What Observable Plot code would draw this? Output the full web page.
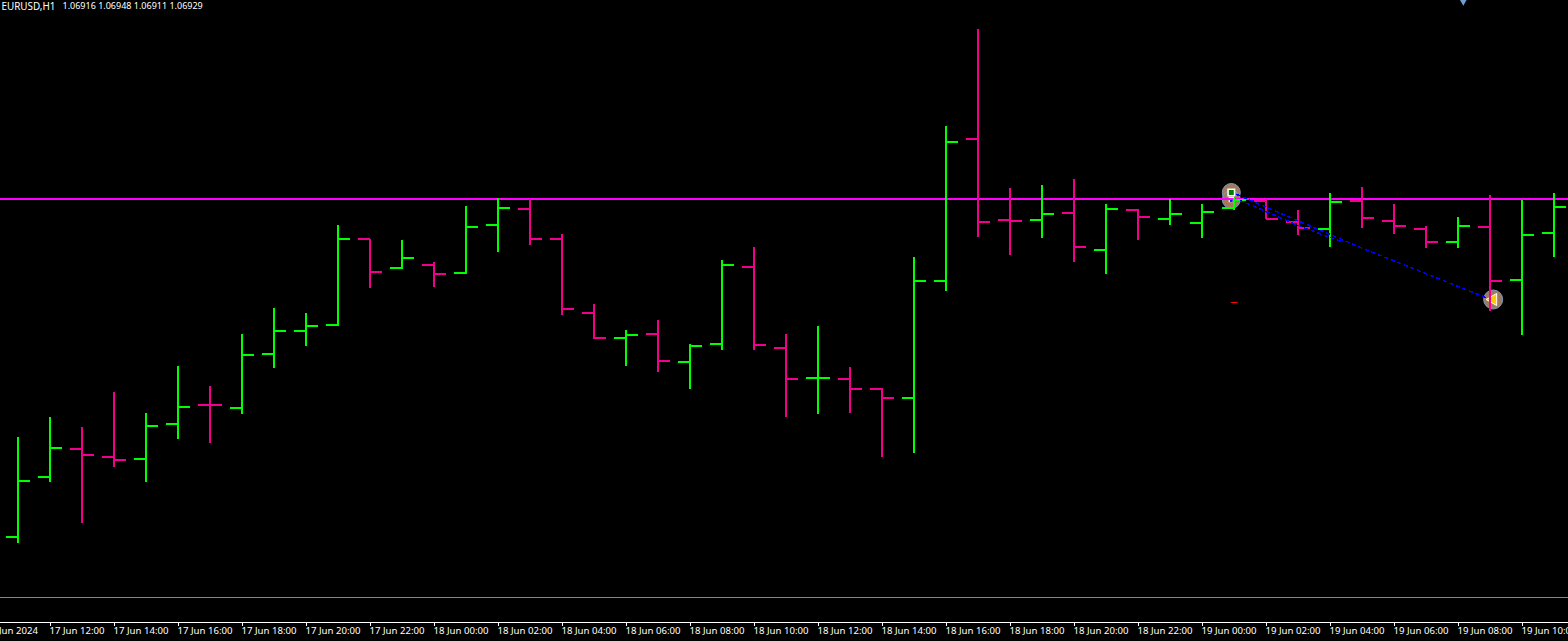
<!DOCTYPE html>
<html>
<head>
<meta charset="utf-8">
<style>html,body{margin:0;padding:0;background:#000;overflow:hidden}svg{display:block}</style>
<script src="https://cdn.jsdelivr.net/npm/d3@7"></script>
<script src="https://cdn.jsdelivr.net/npm/@observablehq/plot@0.6"></script>
</head>
<body>
<script>
const symbolLabel = "EURUSD,H1";
const quote = ["1.06916","1.06948","1.06911","1.06929"];

const times = ["2024-06-17T11:00Z","2024-06-17T12:00Z","2024-06-17T13:00Z","2024-06-17T14:00Z","2024-06-17T15:00Z","2024-06-17T16:00Z","2024-06-17T17:00Z","2024-06-17T18:00Z","2024-06-17T19:00Z","2024-06-17T20:00Z","2024-06-17T21:00Z","2024-06-17T22:00Z","2024-06-17T23:00Z","2024-06-18T00:00Z","2024-06-18T01:00Z","2024-06-18T02:00Z","2024-06-18T03:00Z","2024-06-18T04:00Z","2024-06-18T05:00Z","2024-06-18T06:00Z","2024-06-18T07:00Z","2024-06-18T08:00Z","2024-06-18T09:00Z","2024-06-18T10:00Z","2024-06-18T11:00Z","2024-06-18T12:00Z","2024-06-18T13:00Z","2024-06-18T14:00Z","2024-06-18T15:00Z","2024-06-18T16:00Z","2024-06-18T17:00Z","2024-06-18T18:00Z","2024-06-18T19:00Z","2024-06-18T20:00Z","2024-06-18T21:00Z","2024-06-18T22:00Z","2024-06-18T23:00Z","2024-06-19T00:00Z","2024-06-19T01:00Z","2024-06-19T02:00Z","2024-06-19T03:00Z","2024-06-19T04:00Z","2024-06-19T05:00Z","2024-06-19T06:00Z","2024-06-19T07:00Z","2024-06-19T08:00Z","2024-06-19T09:00Z","2024-06-19T10:00Z","2024-06-19T11:00Z"];
const opens  = [1.07104,1.07164,1.07192,1.07184,1.07182,1.07217,1.07236,1.07233,1.07287,1.07310,1.07316,1.07402,1.07373,1.07376,1.07368,1.07416,1.07432,1.07402,1.07328,1.07303,1.07307,1.07279,1.07297,1.07374,1.07293,1.07263,1.07262,1.07252,1.07243,1.07360,1.07502,1.07421,1.07421,1.07428,1.07391,1.07431,1.07422,1.07418,1.07433,1.07440,1.07419,1.07412,1.07440,1.07420,1.07412,1.07399,1.07414,1.07361,1.07408];
const highs  = [1.07204,1.07224,1.07214,1.07249,1.07228,1.07275,1.07255,1.07307,1.07333,1.07328,1.07416,1.07402,1.07401,1.07379,1.07435,1.07443,1.07442,1.07407,1.07337,1.07311,1.07321,1.07297,1.07381,1.07394,1.07307,1.07315,1.07274,1.07253,1.07384,1.07515,1.07612,1.07453,1.07456,1.07462,1.07437,1.07432,1.07442,1.07437,1.07443,1.07442,1.07431,1.07448,1.07454,1.07437,1.07415,1.07424,1.07446,1.07441,1.07448];
const lows   = [1.07098,1.07159,1.07118,1.07174,1.07159,1.07202,1.07198,1.07227,1.07273,1.07295,1.07315,1.07353,1.07372,1.07354,1.07367,1.07389,1.07396,1.07326,1.07302,1.07275,1.07269,1.07252,1.07291,1.07291,1.07224,1.07227,1.07228,1.07184,1.07188,1.07350,1.07404,1.07386,1.07403,1.07379,1.07367,1.07401,1.07416,1.07403,1.07431,1.07422,1.07406,1.07394,1.07413,1.07407,1.07393,1.07393,1.07330,1.07306,1.07384];
const closes = [1.07160,1.07193,1.07186,1.07181,1.07215,1.07234,1.07236,1.07286,1.07310,1.07315,1.07402,1.07369,1.07383,1.07367,1.07414,1.07433,1.07402,1.07332,1.07303,1.07306,1.07280,1.07295,1.07376,1.07296,1.07262,1.07263,1.07252,1.07243,1.07360,1.07499,1.07419,1.07420,1.07427,1.07394,1.07432,1.07424,1.07427,1.07429,1.07441,1.07422,1.07413,1.07439,1.07423,1.07415,1.07399,1.07415,1.07360,1.07406,1.07434];

const tickTimes = ["2024-06-17T10:00Z","2024-06-17T12:00Z","2024-06-17T14:00Z","2024-06-17T16:00Z","2024-06-17T18:00Z","2024-06-17T20:00Z","2024-06-17T22:00Z","2024-06-18T00:00Z","2024-06-18T02:00Z","2024-06-18T04:00Z","2024-06-18T06:00Z","2024-06-18T08:00Z","2024-06-18T10:00Z","2024-06-18T12:00Z","2024-06-18T14:00Z","2024-06-18T16:00Z","2024-06-18T18:00Z","2024-06-18T20:00Z","2024-06-18T22:00Z","2024-06-19T00:00Z","2024-06-19T02:00Z","2024-06-19T04:00Z","2024-06-19T06:00Z","2024-06-19T08:00Z","2024-06-19T10:00Z"];
const tickLabels = ["17 Jun 2024","17 Jun 12:00","17 Jun 14:00","17 Jun 16:00","17 Jun 18:00","17 Jun 20:00","17 Jun 22:00","18 Jun 00:00","18 Jun 02:00","18 Jun 04:00","18 Jun 06:00","18 Jun 08:00","18 Jun 10:00","18 Jun 12:00","18 Jun 14:00","18 Jun 16:00","18 Jun 18:00","18 Jun 20:00","18 Jun 22:00","19 Jun 00:00","19 Jun 02:00","19 Jun 04:00","19 Jun 06:00","19 Jun 08:00","19 Jun 10:00"];

const levelPrice = 1.07442;
const separatorPrice = 1.07044;
const floorPrice = 1.07019;
const tickEndPrice = 1.07015;
const ceilingPrice = 1.07641;
const viewStart = "2024-06-17T10:26:15Z";
const viewEnd = "2024-06-19T11:26:15Z";

// order arrows and the trade link
const entryTime = "2024-06-19T00:54:00Z", entryPrice = 1.07445;
const exitTime = "2024-06-19T09:05:00Z", exitPrice = 1.07342;
const linkUpperTimes = ["2024-06-19T01:04:00Z","2024-06-19T04:56:00Z","2024-06-19T08:56:00Z"];
const linkUpperPrices = [1.07447,1.07394,1.07343];
const linkLowerTimes = ["2024-06-19T01:11:00Z","2024-06-19T03:04:00Z","2024-06-19T04:25:00Z"];
const linkLowerPrices = [1.07441,1.07415,1.07399];
const redMarkTimes = ["2024-06-19T00:54:00Z","2024-06-19T01:07:00Z"];
const redMarkPrice = 1.07339;
const topMarkTime = "2024-06-19T08:09:00Z", topMarkPrice = 1.07642;

const UP = "#00ff00", DOWN = "#f0008c", MAG = "#ff00ff";
const d = s => new Date(s);
const shift = (t, min) => new Date(+t + min * 60000);
const bars = times.map((t, i) => ({t: d(t), o: opens[i], h: highs[i], l: lows[i], c: closes[i]}));
const col = b => b.c > b.o || (b.c === b.o && b.t.getUTCHours() === 12) ? UP : DOWN;
const labelOf = new Map(tickTimes.map((t, i) => [+d(t), tickLabels[i]]));
const font = "'Noto Sans', sans-serif";
const brown = {fill: "#a07a5c", stroke: "#7d9dbe", strokeWidth: 1};

const chart = Plot.plot({
  width: 1568, height: 641,
  marginTop: 0, marginLeft: 0, marginRight: 0, marginBottom: 19,
  style: {background: "#000", color: "#fff", fontFamily: font, fontSize: "9.6px"},
  x: {type: "utc", domain: [d(viewStart), d(viewEnd)], axis: null},
  y: {type: "linear", domain: [floorPrice, ceilingPrice], axis: null},
  marks: [
    Plot.ruleY([separatorPrice], {stroke: "#778899", strokeWidth: 1}),
    Plot.ruleY([floorPrice], {stroke: "#fff", strokeWidth: 1}),
    Plot.ruleX(tickTimes.map(d), {y1: floorPrice, y2: tickEndPrice, stroke: "#fff", strokeWidth: 1}),
    Plot.axisX(tickTimes.map(d), {
      anchor: "bottom", tickSize: 0, tickPadding: 5, textAnchor: "start", dx: -1,
      fill: "#fff", label: null, tickFormat: t => labelOf.get(+t)
    }),
    // order circles (under bars)
    Plot.dot([0], {x: () => d(entryTime), y: () => entryPrice + 0.00004, r: 9, ...brown}),
    Plot.dot([0], {x: () => d(entryTime), y: () => entryPrice - 0.00003, r: 9, ...brown}),
    Plot.dot([0], {x: () => d(entryTime), y: () => entryPrice + 0.00004, symbol: "square", r: 4.5, fill: "#fff"}),
    Plot.dot([0], {x: () => d(entryTime), y: () => entryPrice + 0.00004, symbol: "square", r: 2.8, fill: "#008000"}),
    Plot.dot([0], {x: () => d(entryTime), y: () => entryPrice - 0.00003, symbol: "square", r: 3, fill: "#fff"}),
    Plot.dot([0], {x: () => d(entryTime), y: () => entryPrice - 0.00004, symbol: "square", r: 1.6, fill: "#0000ff"}),
    Plot.dot([0], {x: () => d(exitTime), y: () => exitPrice, r: 9.5, ...brown}),
    Plot.dot([0], {x: () => d(exitTime), y: () => exitPrice, symbol: "triangle", rotate: -90, r: 4.5, fill: "#ffc800", stroke: "#fff", strokeWidth: 1}),
    // horizontal level
    Plot.ruleY([levelPrice], {stroke: MAG, strokeWidth: 2, dy: -0.5}),
    // OHLC bars
    Plot.ruleX(bars, {x: "t", y1: "l", y2: "h", stroke: col, strokeWidth: 2, dx: -0.5, strokeLinecap: "butt"}),
    Plot.ruleY(bars, {x1: b => shift(b.t, -22.5), x2: "t", y: "o", stroke: col, strokeWidth: 2, dy: -0.5}),
    Plot.ruleY(bars, {x1: "t", x2: b => shift(b.t, 22.5), y: "c", stroke: col, strokeWidth: 2, dy: -0.5}),
    // trade link
    Plot.line(linkUpperTimes.map((t, i) => ({t: d(t), p: linkUpperPrices[i]})), {x: "t", y: "p", stroke: "#0000ff", strokeWidth: 1.5, strokeDasharray: "3,4", shapeRendering: "crispEdges"}),
    Plot.line(linkLowerTimes.map((t, i) => ({t: d(t), p: linkLowerPrices[i]})), {x: "t", y: "p", stroke: "#0000ff", strokeWidth: 1.5, strokeDasharray: "3,4", shapeRendering: "crispEdges"}),
    // small marks
    Plot.ruleY([redMarkPrice], {x1: () => d(redMarkTimes[0]), x2: () => d(redMarkTimes[1]), stroke: "#ff0000", strokeWidth: 1}),
    Plot.dot([0], {x: () => d(topMarkTime), y: () => topMarkPrice, symbol: "triangle", rotate: 180, r: 4, fill: "#6f9fd0"}),
    // header
    Plot.text([symbolLabel], {frameAnchor: "top-left", dx: 1, dy: 2, fill: "#fff", fontSize: 9.9, lineAnchor: "top"}),
    Plot.text([quote.join(" ")], {frameAnchor: "top-left", dx: 62, dy: 2, fill: "#fff", fontSize: 9, lineAnchor: "top"})
  ]
});
document.body.appendChild(chart);
</script>
</body>
</html>
